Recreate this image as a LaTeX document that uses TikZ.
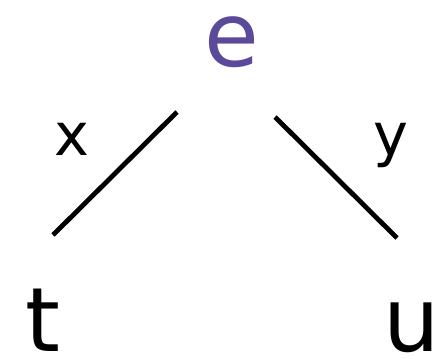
\documentclass[tikz,border=0pt]{standalone}
\usepackage{fontspec}
\setmainfont{DejaVu Sans}
\definecolor{nodepurple}{HTML}{5B4A9A}
\begin{document}
\begin{tikzpicture}[x=1pt,y=-1pt,
  lbl/.style={anchor=base,inner sep=0pt,text height=0.72em,text depth=0pt,font=\fontsize{89}{89}\selectfont},
  elbl/.style={anchor=base,inner sep=0pt,font=\fontsize{59}{59}\selectfont},
  edge/.style={line width=4.8pt,line cap=butt}]
\useasboundingbox (0,0) rectangle (437,359);
\node[lbl,text=nodepurple] (e) at (232,66) {e};
\node[lbl] (t) at (43,351) {t};
\node[lbl] (u) at (412,351) {u};
\node[elbl] (x) at (72,155) {x};
\node[elbl] (y) at (391,155) {y};
\coordinate (a1) at (177,112);
\coordinate (a2) at (53,235);
\coordinate (b1) at (275,117);
\coordinate (b2) at (397,238);
\draw[edge] (a1) -- (a2);
\draw[edge] (b1) -- (b2);
\end{tikzpicture}
\end{document}
